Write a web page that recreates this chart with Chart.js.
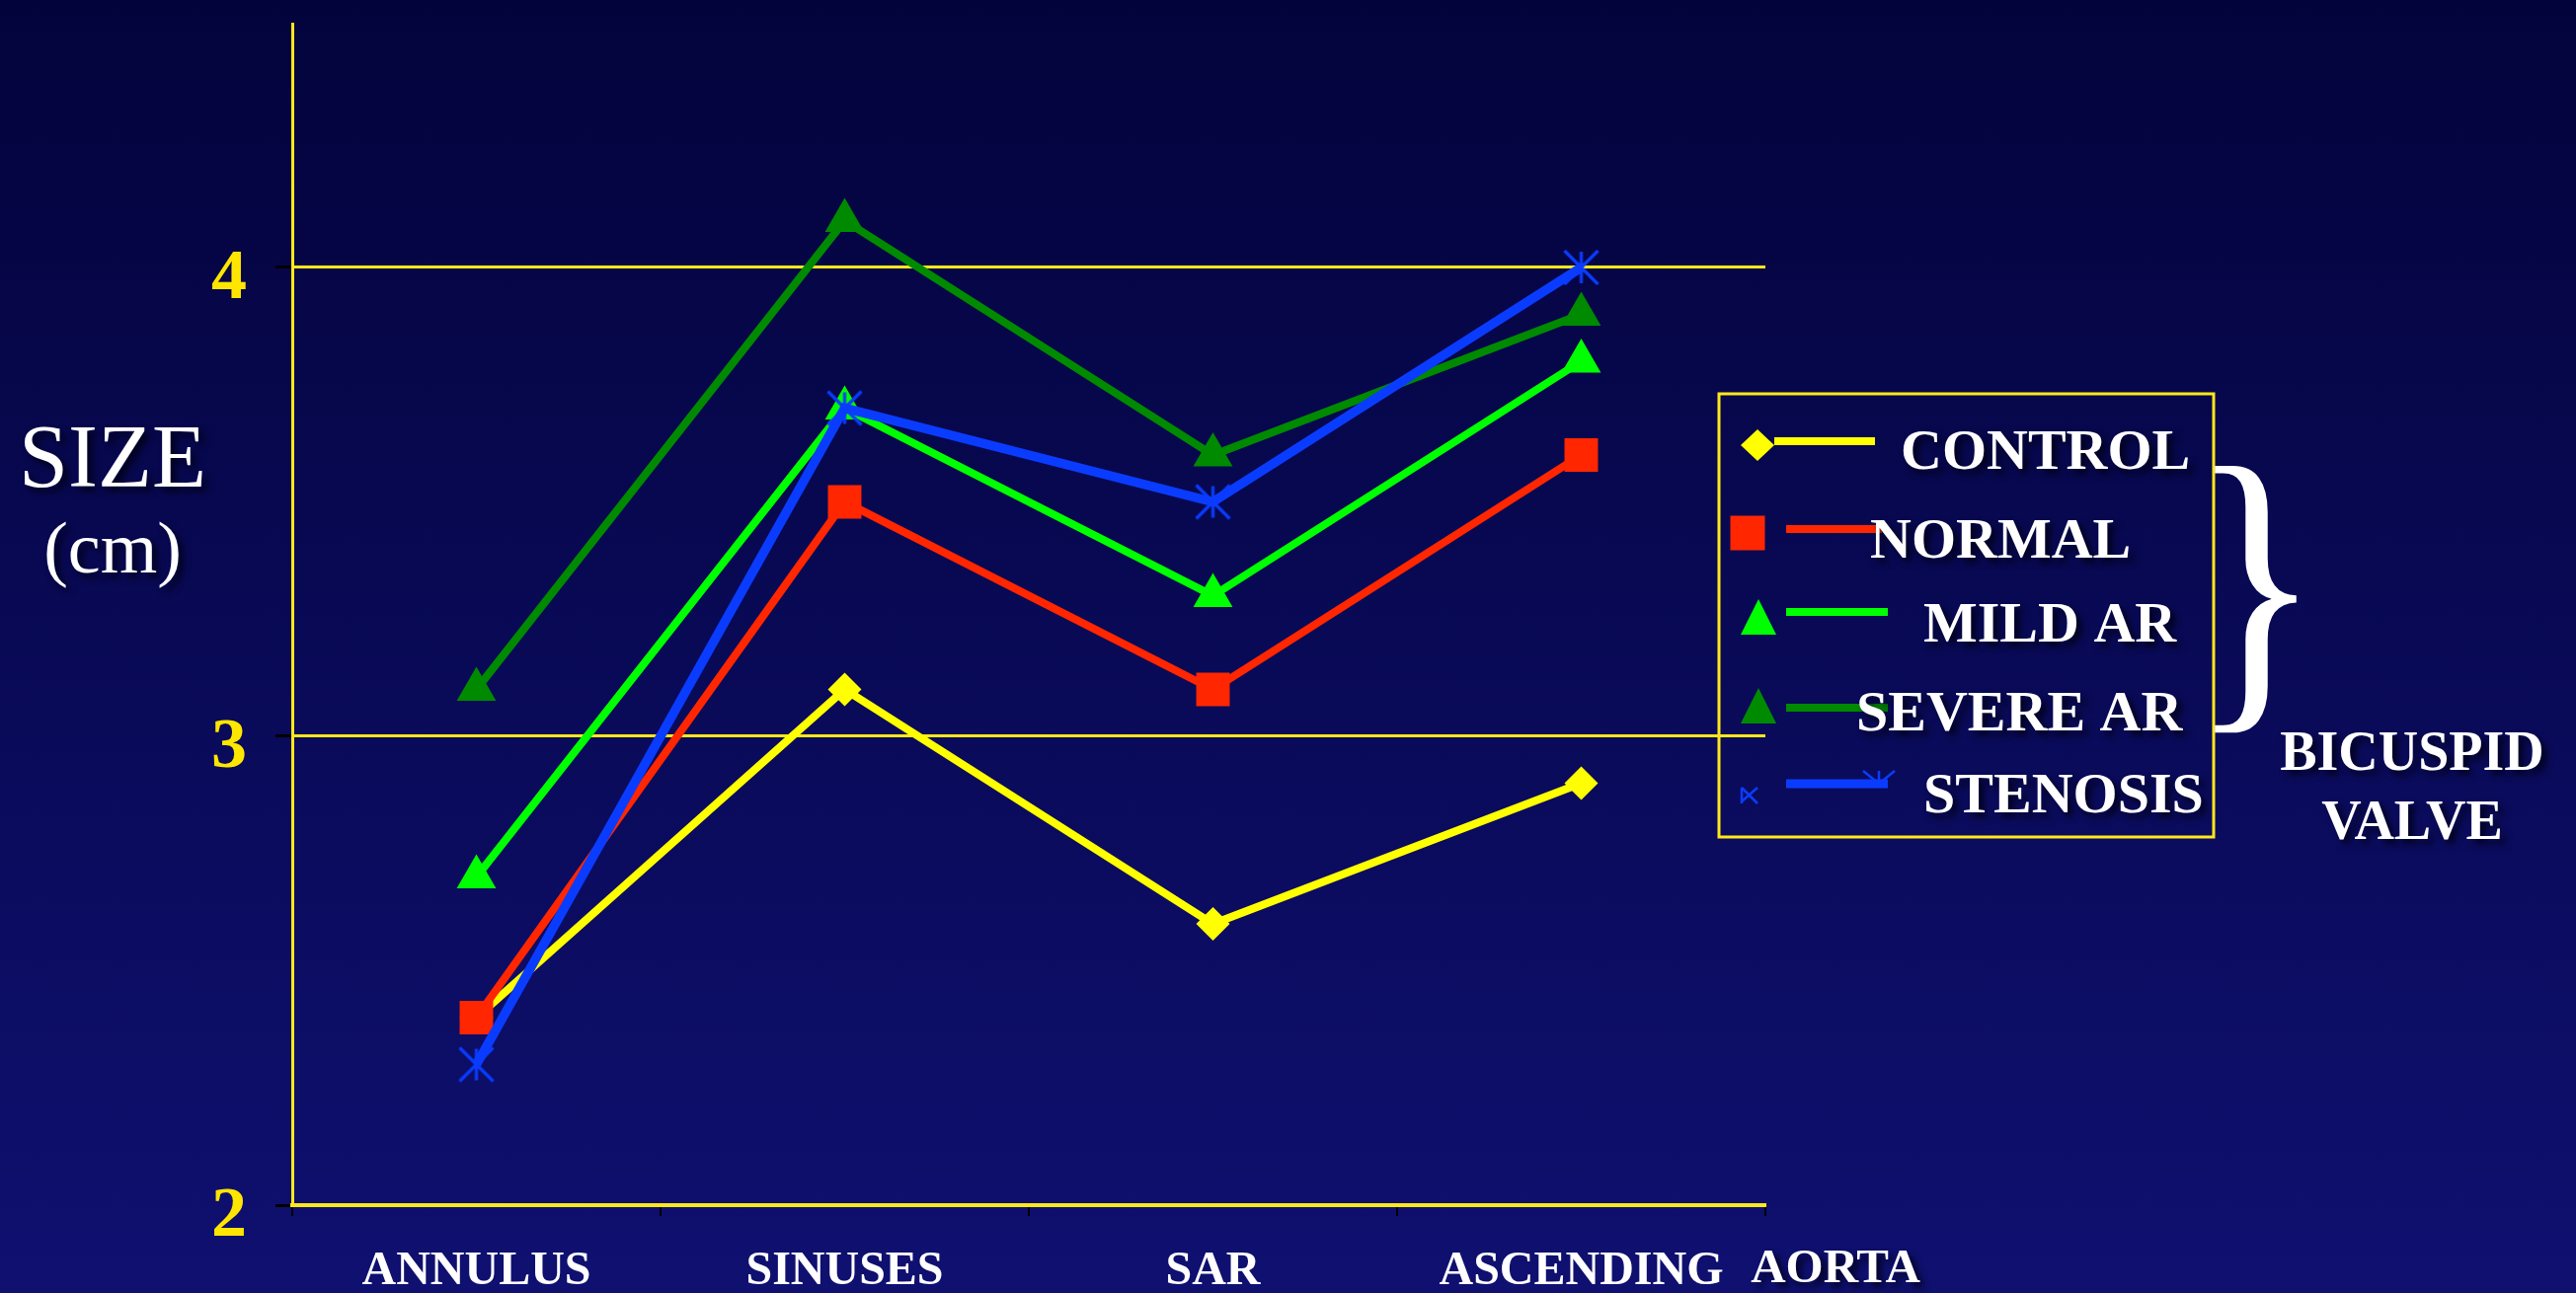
<!DOCTYPE html>
<html>
<head>
<meta charset="utf-8">
<title>Aortic size by segment</title>
<script src="https://cdn.jsdelivr.net/npm/chart.js@4.4.1/dist/chart.umd.min.js"></script>
<style>
  html, body { margin: 0; padding: 0; background: #08084f; overflow: hidden; }
  canvas { display: block; }
</style>
</head>
<body>
<canvas id="chart" width="2609" height="1310"></canvas>
<script>
// Aortic segments along the x axis
const categories = ['ANNULUS', 'SINUSES', 'SAR', 'ASCENDING'];
const axisEndCaption = 'AORTA';

// Y axis ticks (cm)
const yTickValues = [2, 3, 4];
const yTitle = ['SIZE', '(cm)'];

// Series (diameter in cm at each segment)
const seriesNames = ['CONTROL', 'NORMAL', 'MILD AR', 'SEVERE AR', 'STENOSIS'];
const control  = [2.4, 3.1, 2.6, 2.9];
const normal   = [2.4, 3.5, 3.1, 3.6];
const mildAR   = [2.7, 3.7, 3.3, 3.8];
const severeAR = [3.1, 4.1, 3.6, 3.9];
const stenosis = [2.3, 3.7, 3.5, 4.0];

const bracketCaption = ['BICUSPID', 'VALVE'];

const YELLOW_AXIS = '#ffe81a';
const SERIF = '"Liberation Serif", "Times New Roman", serif';

// six-armed asterisk marker (X plus a vertical stroke)
function asteriskSprite(color, r, w) {
  const s = Math.ceil(2 * r + w + 2);
  const c = document.createElement('canvas');
  c.width = c.height = s;
  const g = c.getContext('2d');
  const m = s / 2;
  g.strokeStyle = color;
  g.lineWidth = w;
  g.beginPath();
  g.moveTo(m - r, m - r); g.lineTo(m + r, m + r);
  g.moveTo(m + r, m - r); g.lineTo(m - r, m + r);
  g.moveTo(m, m - r + 1); g.lineTo(m, m + r - 1);
  g.stroke();
  return c;
}

const blue = '#0a3cff';
const datasets = [
  { label: seriesNames[0], data: control,  borderColor: '#ffff00', backgroundColor: '#ffff00',
    pointStyle: 'rectRot', pointRadius: 17, borderWidth: 8, order: 4 },
  { label: seriesNames[1], data: normal,   borderColor: '#ff2600', backgroundColor: '#ff2600',
    pointStyle: 'rect', pointRadius: 24, borderWidth: 8, order: 1 },
  { label: seriesNames[2], data: mildAR,   borderColor: '#00ff00', backgroundColor: '#00ff00',
    pointStyle: 'triangle', pointRadius: 23, borderWidth: 8, order: 2 },
  { label: seriesNames[3], data: severeAR, borderColor: '#008a00', backgroundColor: '#008a00',
    pointStyle: 'triangle', pointRadius: 23, borderWidth: 8, order: 3 },
  { label: seriesNames[4], data: stenosis, borderColor: blue, backgroundColor: blue,
    pointStyle: asteriskSprite(blue, 17, 3.2), pointRadius: 18, borderWidth: 9.5, order: 0 }
].map(d => Object.assign(d, {
  tension: 0, fill: false, pointBorderWidth: 0, pointBorderColor: d.borderColor,
  pointBackgroundColor: d.backgroundColor, pointHoverRadius: d.pointRadius
}));

// slide background: dark navy fading to a brighter blue at the bottom
const backgroundPlugin = {
  id: 'slideBackground',
  beforeDraw(chart) {
    const { ctx, width, height } = chart;
    const g = ctx.createLinearGradient(0, 0, 0, height);
    g.addColorStop(0, '#03033c');
    g.addColorStop(1, '#0f1070');
    ctx.save();
    ctx.fillStyle = g;
    ctx.fillRect(0, 0, width, height);
    ctx.restore();
  }
};

function shadowText(ctx, text, x, y, font, align) {
  ctx.save();
  ctx.font = font;
  ctx.textAlign = align || 'left';
  ctx.textBaseline = 'alphabetic';
  ctx.shadowColor = 'rgba(0,0,20,0.85)';
  ctx.shadowOffsetX = 5;
  ctx.shadowOffsetY = 5;
  ctx.shadowBlur = 7;
  ctx.fillStyle = '#ffffff';
  ctx.fillText(text, x, y);
  ctx.restore();
}

// titles, boxed key, brace and caption
const decorPlugin = {
  id: 'slideDecor',
  afterDraw(chart) {
    const { ctx } = chart;
    const xs = chart.scales.x;

    // y axis title
    shadowText(ctx, yTitle[0], 114, 493, `90px ${SERIF}`, 'center');
    shadowText(ctx, yTitle[1], 114, 580, `74px ${SERIF}`, 'center');

    // trailing word of the last category caption
    shadowText(ctx, axisEndCaption, xs.right + 71, 1299, `bold 49px ${SERIF}`, 'center');

    // key box
    ctx.save();
    ctx.strokeStyle = YELLOW_AXIS;
    ctx.lineWidth = 3;
    ctx.strokeRect(1741, 399, 501, 449);
    ctx.restore();

    const rows = [
      { mx: 1780, my: 451, lx0: 1797, lx1: 1899, ly: 447, tx: 1925, ty: 475 },
      { mx: 1770, my: 540, lx0: 1809, lx1: 1906, ly: 536, tx: 1894, ty: 565 },
      { mx: 1781, my: 631, lx0: 1809, lx1: 1912, ly: 620, tx: 1948, ty: 650 },
      { mx: 1781, my: 721, lx0: 1809, lx1: 1912, ly: 717, tx: 1880, ty: 740 },
      { mx: 1772, my: 806, lx0: 1809, lx1: 1912, ly: 794, tx: 1948, ty: 823 }
    ];
    chart.data.datasets.forEach((ds, i) => {
      const r = rows[i];
      const col = ds.borderColor;
      ctx.save();
      ctx.fillStyle = col;
      ctx.strokeStyle = col;
      // marker
      if (ds.pointStyle === 'rectRot') {
        ctx.beginPath();
        ctx.moveTo(r.mx, r.my - 16); ctx.lineTo(r.mx + 17, r.my);
        ctx.lineTo(r.mx, r.my + 16); ctx.lineTo(r.mx - 17, r.my);
        ctx.closePath(); ctx.fill();
      } else if (ds.pointStyle === 'rect') {
        ctx.fillRect(r.mx - 17.5, r.my - 17.5, 35, 35);
      } else if (ds.pointStyle === 'triangle') {
        ctx.beginPath();
        ctx.moveTo(r.mx, r.my - 24); ctx.lineTo(r.mx + 18, r.my + 12);
        ctx.lineTo(r.mx - 18, r.my + 12); ctx.closePath(); ctx.fill();
      } else {
        ctx.lineWidth = 2.5;
        ctx.beginPath();
        ctx.moveTo(r.mx - 8, r.my - 8); ctx.lineTo(r.mx + 8, r.my + 8);
        ctx.moveTo(r.mx + 8, r.my - 8); ctx.lineTo(r.mx - 8, r.my + 6);
        ctx.moveTo(r.mx - 8, r.my - 8); ctx.lineTo(r.mx - 8, r.my + 8);
        ctx.stroke();
      }
      // line sample
      ctx.lineWidth = i === 4 ? 9 : 8;
      ctx.beginPath();
      ctx.moveTo(r.lx0, r.ly); ctx.lineTo(r.lx1, r.ly);
      ctx.stroke();
      if (i === 4) {
        ctx.lineWidth = 2.5;
        const cx = r.lx1 - 9, cy = r.ly;
        ctx.beginPath();
        ctx.moveTo(cx, cy); ctx.lineTo(cx - 16, cy - 13);
        ctx.moveTo(cx, cy); ctx.lineTo(cx + 16, cy - 13);
        ctx.moveTo(cx, cy); ctx.lineTo(cx, cy - 13);
        ctx.stroke();
      }
      ctx.restore();
      shadowText(ctx, ds.label, r.tx, r.ty, `bold 58px ${SERIF}`, 'left');
    });

    // curly brace grouping the bicuspid-valve series
    const bx0 = 2243, bx1 = 2326, by0 = 470, by1 = 741;
    ctx.save();
    ctx.font = `100px ${SERIF}`;
    const m = ctx.measureText('}');
    const gw = m.actualBoundingBoxLeft + m.actualBoundingBoxRight;
    const gh = m.actualBoundingBoxAscent + m.actualBoundingBoxDescent;
    ctx.translate(bx0, by0);
    ctx.scale((bx1 - bx0) / gw, (by1 - by0) / gh);
    ctx.fillStyle = '#ffffff';
    ctx.textBaseline = 'alphabetic';
    ctx.textAlign = 'left';
    ctx.fillText('}', m.actualBoundingBoxLeft, m.actualBoundingBoxAscent);
    ctx.restore();

    shadowText(ctx, bracketCaption[0], 2443, 780, `bold 56px ${SERIF}`, 'center');
    shadowText(ctx, bracketCaption[1], 2443, 850, `bold 56px ${SERIF}`, 'center');
  }
};

new Chart(document.getElementById('chart'), {
  type: 'line',
  data: { labels: categories, datasets },
  plugins: [backgroundPlugin, decorPlugin],
  options: {
    responsive: false,
    devicePixelRatio: 1,
    animation: false,
    layout: { padding: { left: 0, right: 821, top: 13, bottom: 0 } },
    plugins: { legend: { display: false }, tooltip: { enabled: false } },
    scales: {
      x: {
        type: 'category',
        offset: true,
        afterFit(scale) {
          scale.height = 89;
          scale.paddingLeft = 0; scale.paddingRight = 0;
        },
        border: { display: true, color: YELLOW_AXIS, width: 4 },
        grid: { offset: true, drawOnChartArea: false, drawTicks: true, tickLength: 11,
                tickColor: '#000000', lineWidth: 2, color: '#000000' },
        ticks: { color: '#ffffff', padding: 28, maxRotation: 0, autoSkip: false,
                 font: { family: SERIF, size: 48, weight: 'bold' } }
      },
      y: {
        min: 2,
        max: 4.52,
        afterFit(scale) {
          scale.width = 296;
          scale.paddingTop = 0; scale.paddingBottom = 0;
        },
        afterBuildTicks(scale) { scale.ticks = yTickValues.map(v => ({ value: v })); },
        border: { display: true, color: YELLOW_AXIS, width: 3 },
        grid: { color: YELLOW_AXIS, lineWidth: 3, drawTicks: true, tickLength: 17,
                tickColor: '#000000' },
        ticks: { color: '#ffe600', padding: 29, labelOffset: 12,
                 font: { family: SERIF, size: 72, weight: 'bold' },
                 callback: v => String(v) }
      }
    }
  }
});
</script>
</body>
</html>
